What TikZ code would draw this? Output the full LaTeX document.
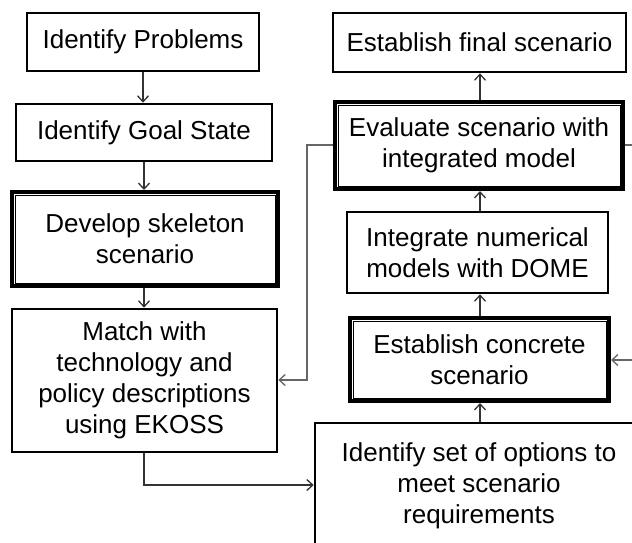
\documentclass[tikz,border=0pt]{standalone}
\usepackage{fontspec}
\setmainfont{Liberation Sans}
\usetikzlibrary{arrows.meta}
\tikzset{
  box/.style={draw=black, line width=2.6pt, fill=white, rectangle, inner sep=0pt,
    align=center, font=\fontsize{26}{31}\selectfont},
  dbox/.style={box, line width=4pt},
  flow/.style={draw=black!80, line width=1.3pt, -{Straight Barb[length=6pt,width=11pt,line width=1.3pt]}},
  back/.style={flow, draw=black!60}
}
\begin{document}
\begin{tikzpicture}[x=1pt,y=-1pt]
  \clip (0,0) rectangle (632,542);
  \fill[white] (0,0) rectangle (632,542);

  % left column
  \node[box, minimum width=232pt, minimum height=58pt] (prob) at (143,42) {Identify Problems};
  \node[box, minimum width=256pt, minimum height=57pt] (goal) at (144,132.5) {Identify Goal State};
  \node[dbox, minimum width=266pt, minimum height=94pt] (skel) at (145,239) {Develop skeleton\\scenario};
  \node[box, minimum width=265pt, minimum height=143pt] (match) at (144.5,380.5)
    {Match with\\technology and\\policy descriptions\\using EKOSS};

  % right column
  \node[box, minimum width=328pt, minimum height=126pt] (opts) at (479,486)
    {Identify set of options to\\meet scenario\\requirements};
  \node[dbox, minimum width=259pt, minimum height=83pt] (concrete) at (479.5,359.5)
    {Establish concrete\\scenario};
  \node[box, minimum width=261pt, minimum height=81pt] (integ) at (477.5,252.5)
    {Integrate numerical\\models with DOME};
  \node[dbox, minimum width=288pt, minimum height=87pt] (eval) at (479,145.5)
    {Evaluate scenario with\\integrated model};
  \node[box, minimum width=293pt, minimum height=59pt] (final) at (479.5,42.5)
    {Establish final scenario};

  % inner rules of the double-framed boxes
  \foreach \n in {skel,concrete,eval}
    \draw[line width=1pt] ([xshift=5pt,yshift=-5pt]\n.north west) rectangle ([xshift=-5pt,yshift=5pt]\n.south east);

  % connectors
  \draw[flow] (prob.south) -- (goal.north -| prob.south);
  \draw[flow] (goal.south) -- (skel.north -| goal.south);
  \draw[flow] (skel.south -| goal.south) -- (match.north -| goal.south);
  \coordinate (mbend) at (144,485);
  \draw[flow] (match.south -| mbend) -- (mbend) -- (mbend -| opts.west);
  \coordinate (spine) at (480,0);
  \draw[flow] (opts.north -| spine) -- (concrete.south -| spine);
  \draw[flow] (concrete.north -| spine) -- (integ.south -| spine);
  \draw[flow] (integ.north -| spine) -- (eval.south -| spine);
  \draw[flow] (eval.north -| spine) -- (final.south -| spine);

  % feedback loops
  \coordinate (lbend) at (307,145);
  \draw[back] (eval.west |- lbend) -- (lbend) -- (307,380) -- (match.east |- 0,380);
  \coordinate (rbend) at (650,145);
  \draw[back] (eval.east |- rbend) -- (rbend) -- (650,360) -- (concrete.east |- 0,360);
\end{tikzpicture}
\end{document}
